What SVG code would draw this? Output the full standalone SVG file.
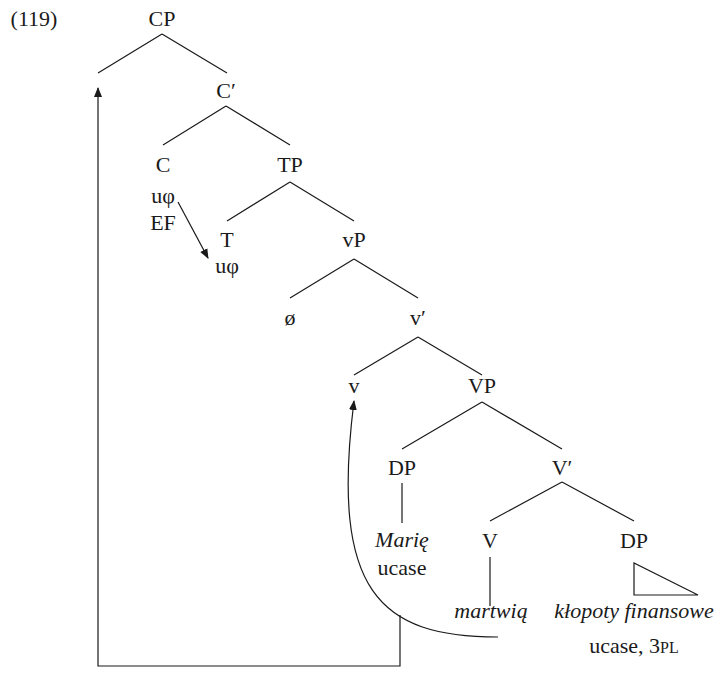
<svg xmlns="http://www.w3.org/2000/svg" width="720" height="680" viewBox="0 0 720 680">
<style>
  text { font-family: "Liberation Serif", "DejaVu Serif", serif; font-size: 22px; fill: #1a1a1a; text-anchor: middle; }
  .it { font-style: italic; }
  .sc { font-size: 16px; }
  .edge { stroke: #1a1a1a; stroke-width: 1.2; fill: none; }
</style>
<defs>
  <marker id="head" viewBox="0 0 10 10" refX="9" refY="5" markerWidth="10" markerHeight="10" markerUnits="userSpaceOnUse" orient="auto">
    <path d="M0,1 L10,5 L0,9 Z" fill="#1a1a1a"/>
  </marker>
</defs>
<rect width="720" height="680" fill="#fff"/>
<text x="34" y="26">(119)</text>

<g id="cp"><text x="162" y="26">CP</text></g>
<g id="cbar"><text x="226" y="98">C′</text></g>
<g id="c"><text x="163" y="172">C</text><text x="163" y="203">uφ</text><text x="163" y="230">EF</text></g>
<g id="tp"><text x="290" y="172">TP</text></g>
<g id="t"><text x="227" y="247">T</text><text x="227" y="273">uφ</text></g>
<g id="vp"><text x="354" y="247">vP</text></g>
<g id="spec-vp"><text x="290" y="325">ø</text></g>
<g id="vbar"><text x="418" y="325">v′</text></g>
<g id="v"><text x="354" y="393">v</text></g>
<g id="vp2"><text x="482" y="393">VP</text></g>
<g id="dp-subj"><text x="402" y="475">DP</text><text x="402" y="547" class="it">Marię</text><text x="402" y="575">ucase</text></g>
<g id="vbar2"><text x="562" y="475">V′</text></g>
<g id="verb"><text x="490" y="548">V</text><text x="491" y="618" class="it">martwią</text></g>
<g id="dp-obj"><text x="634" y="548">DP</text><text x="634" y="618" class="it">kłopoty finansowe</text><text x="634" y="653">ucase, 3<tspan class="sc">PL</tspan></text></g>

<g id="connectors">
  <path class="edge" d="M162,34 L98,73 M162,34 L227,73"/>
  <path class="edge" d="M226,106 L163,145 M226,106 L290,145"/>
  <path class="edge" d="M290,182 L227,221 M290,182 L354,221"/>
  <path class="edge" d="M354,259 L290,298 M354,259 L418,298"/>
  <path class="edge" d="M418,337 L354,375 M418,337 L482,375"/>
  <path class="edge" d="M482,402 L402,449 M482,402 L562,449"/>
  <path class="edge" d="M402,483 L402,523"/>
  <path class="edge" d="M562,482 L490,521 M562,482 L634,521"/>
  <path class="edge" d="M490,557 L490,606"/>
  <path class="edge" d="M634,563 L634,595 L698,595 Z"/>
  <path class="edge" d="M178,202 L208,258" marker-end="url(#head)"/>
  <path class="edge" d="M400,615 L400,666 L98,666 L98,88" marker-end="url(#head)"/>
  <path class="edge" d="M498,637 C380,637 330,592 354,401" marker-end="url(#head)"/>
</g>
</svg>
